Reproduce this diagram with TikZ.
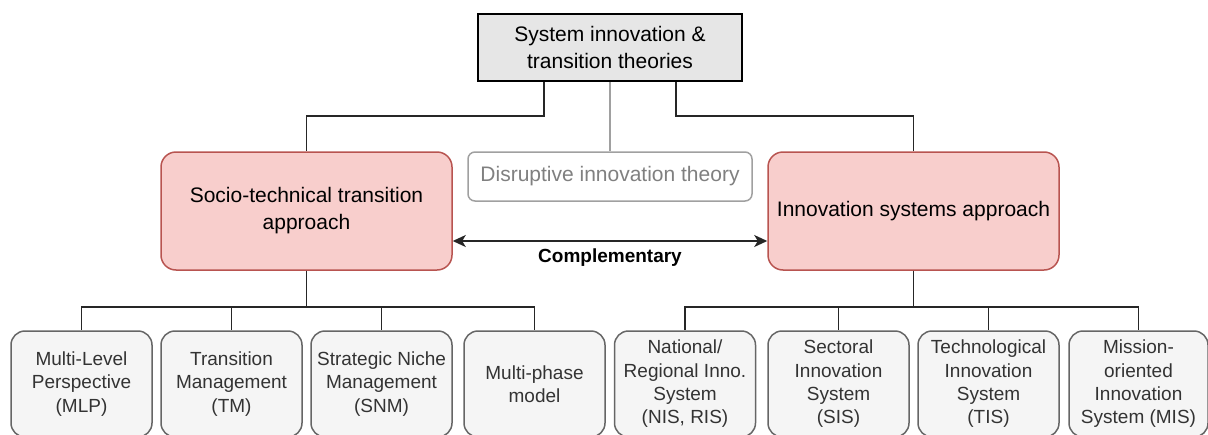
\documentclass[tikz,border=0pt]{standalone}
\usepackage{fontspec}
\setmainfont{Liberation Sans}
\usetikzlibrary{calc}
\usetikzlibrary{arrows.meta}
\usetikzlibrary{positioning}
\definecolor{rosefill}{RGB}{248, 206, 204}
\definecolor{roseline}{RGB}{184, 84, 80}
\definecolor{cloudfill}{RGB}{245, 245, 245}
\definecolor{cloudline}{RGB}{102, 102, 102}
\definecolor{silver}{RGB}{230, 230, 230}
\definecolor{ashline}{RGB}{160, 160, 160}
\definecolor{ashtext}{RGB}{128, 128, 128}

\begin{document}
\begin{tikzpicture}[x=1pt, y=-1pt, line width=1.5pt,
    >={Stealth[length=13pt, width=12pt, inset=3.5pt]},
    theory/.style={draw=black, fill=silver, minimum width=264pt, minimum height=67pt,
        align=center, inner sep=0pt, font=\fontsize{21}{27}\selectfont},
    approach/.style={draw=roseline, fill=rosefill, rounded corners=15pt, minimum width=291pt,
        minimum height=118pt, align=center, inner sep=0pt, font=\fontsize{21}{27}\selectfont},
    method/.style={draw=cloudline, fill=cloudfill, rounded corners=14pt, minimum width=141pt,
        minimum height=106pt, align=center, inner sep=0pt, text=black!80,
        font=\fontsize{19}{23.3}\selectfont},
    link/.style={draw=black!85}]
    \useasboundingbox (0,0) rectangle (1208,434);
    \clip (0,0) rectangle (1208,434);

    % theories
    \node[theory] (sit) at (610,47.5) {System innovation \&\\transition theories};
    \node[approach] (stt) at (306.5,211) {Socio-technical transition\\approach};
    \node[approach] (isa) at (913.5,211) {Innovation systems approach};
    \node[draw=ashline, fill=white, rounded corners=7pt, minimum width=284pt, minimum height=49pt,
        inner sep=0pt, text=ashtext, font=\fontsize{21}{27}\selectfont] (dit) at (610,176.5)
        {Disruptive innovation theory};

    % frameworks
    \node[method] (mlp) at (81.5,384) {Multi-Level\\Perspective\\(MLP)};
    \node[method] (tm)  at (231.5,384) {Transition\\Management\\(TM)};
    \node[method] (snm) at (381.5,384) {Strategic Niche\\Management\\(SNM)};
    \node[method] (mpm) at (534.5,384) {Multi-phase\\model};
    \node[method] (nis) at (685,384) {National/\\Regional Inno.\\System\\(NIS, RIS)};
    \node[method] (sis) at (838.5,384) {Sectoral\\Innovation\\System\\(SIS)};
    \node[method] (tis) at (988.5,384) {Technological\\Innovation\\System\\(TIS)};
    \node[method, minimum width=139pt] (mis) at (1138.5,384) {Mission-\\oriented\\Innovation\\System (MIS)};

    % connectors
    \coordinate (jl) at (544,116);
    \coordinate (jr) at (676,116);
    \coordinate (bus) at (0,307);
    \coordinate (arw) at (0,241);
    \draw[link] (sit.south -| jl) -- (jl) -| (stt.north);
    \draw[link] (sit.south -| jr) -- (jr) -| (isa.north);
    \draw[ashline] (sit) -- (dit);
    \foreach \m in {mlp,tm,snm,mpm}
        \draw[link] (stt.south) |- (\m.north |- bus) -- (\m.north);
    \foreach \m in {nis,sis,tis,mis}
        \draw[link] (isa.south) |- (\m.north |- bus) -- (\m.north);
    \draw[link, <->] (stt.east |- arw) -- (isa.west |- arw)
        node[midway, below=4pt, font=\fontsize{19}{23}\selectfont\bfseries] (cmp) {Complementary};
\end{tikzpicture}
\end{document}
